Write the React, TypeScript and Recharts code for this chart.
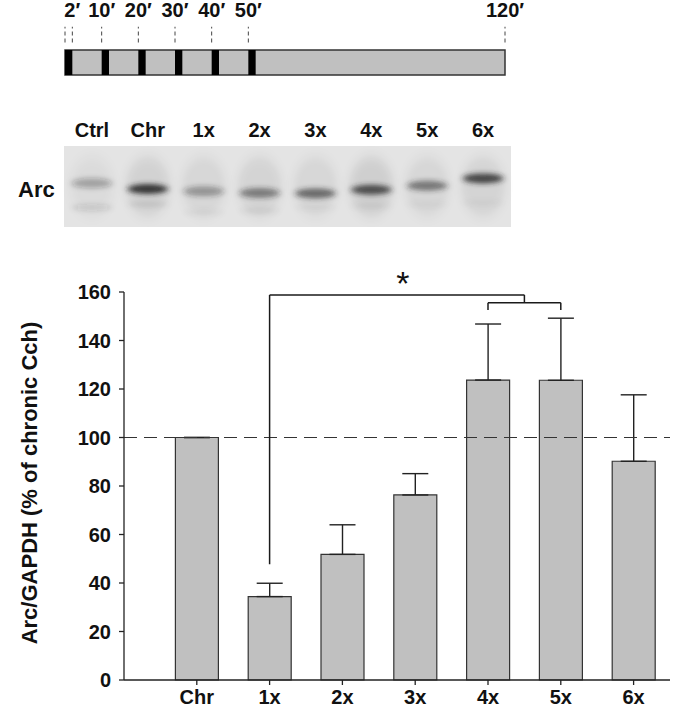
import React from "react";
import {
  BarChart,
  Bar,
  XAxis,
  YAxis,
  ErrorBar,
  ReferenceLine,
  ReferenceArea,
  ReferenceDot,
  ScatterChart,
  Scatter,
} from "recharts";

// Arc/GAPDH, % of chronic Cch (mean + SEM)
const GROUPS = ["Chr", "1x", "2x", "3x", "4x", "5x", "6x"];
const MEANS = [100, 34.4, 51.8, 76.3, 123.7, 123.6, 90.2];
const SEMS = [0, 5.5, 12.2, 8.8, 23.1, 25.6, 27.4];
const Y_TICKS = [0, 20, 40, 60, 80, 100, 120, 140, 160];

// stimulation protocol, minutes
const PULSE_STARTS = [0, 10, 20, 30, 40, 50];
const PULSE_MIN = 2;
const SESSION_MIN = 120;
const TIME_MARKS = [0, 2, 10, 20, 30, 40, 50, 120];
const TIME_LABELS = ["", "2′", "10′", "20′", "30′", "40′", "50′", "120′"];

// western blot lanes (band darkness 0-1, migration % of strip height)
const LANES = ["Ctrl", "Chr", "1x", "2x", "3x", "4x", "5x", "6x"];
const ARC_INTENSITY = [0.3, 0.9, 0.38, 0.5, 0.62, 0.78, 0.55, 0.82];
const ARC_MIGRATION = [46, 53, 56, 58, 58.5, 54, 49, 40];
const LOWER_INTENSITY = [0.12, 0.07, 0.04, 0.05, 0.03, 0.04, 0.03, 0.03];
const LOWER_MIGRATION = [76, 72, 82, 80, 76, 74, 72, 70];
const SMEAR_INTENSITY = [0.04, 0.08, 0.06, 0.07, 0.06, 0.09, 0.06, 0.07];

const SANS = "'Liberation Sans', Arial, sans-serif";
const NARROW = "'Liberation Sans Narrow', 'Liberation Sans', Arial, sans-serif";
const INK = "#111";

const barData = GROUPS.map((g, i) => ({
  pos: i + 1,
  name: g,
  mean: MEANS[i],
  err: [0, SEMS[i]],
}));
const posOf = (g: string) => GROUPS.indexOf(g) + 1;

const timeMarks = TIME_MARKS.map((t, i) => ({ t, y: 2.62, label: TIME_LABELS[i] }));

const smears = LANES.map((lane, i) => ({ lane, m: 50, intensity: SMEAR_INTENSITY[i], kind: "smear" }));
const arcBands = LANES.map((lane, i) => ({
  lane,
  m: ARC_MIGRATION[i],
  intensity: ARC_INTENSITY[i],
  kind: "arc",
}));
const lowerBands = LANES.map((lane, i) => ({
  lane,
  m: LOWER_MIGRATION[i],
  intensity: LOWER_INTENSITY[i],
  kind: "low",
}));

// eslint-disable-next-line @typescript-eslint/no-explicit-any
function Band(props: any) {
  const { cx, cy, payload } = props;
  const id = `blur-${payload.kind}-${payload.lane}`;
  const big = payload.kind === "smear";
  return (
    <g>
      <defs>
        <filter id={id} x="-100%" y="-300%" width="300%" height="700%">
          <feGaussianBlur stdDeviation={big ? "4 6" : "3 2.4"} />
        </filter>
      </defs>
      <ellipse
        cx={cx}
        cy={cy}
        rx={big ? 22 : 20}
        ry={big ? 30 : payload.kind === "arc" ? 5 : 3.5}
        fill="#262626"
        fillOpacity={payload.intensity}
        filter={`url(#${id})`}
      />
    </g>
  );
}

// eslint-disable-next-line @typescript-eslint/no-explicit-any
function TimeLabel(p: any) {
  if (!p.payload.label) return <g />;
  return (
    <text
      x={p.cx}
      y={p.cy + 7}
      textAnchor="middle"
      fontFamily={NARROW}
      fontWeight="bold"
      fontSize={20}
      fill={INK}
    >
      {p.payload.label}
    </text>
  );
}

// eslint-disable-next-line @typescript-eslint/no-explicit-any
function Star(p: any) {
  return (
    <text x={p.cx} y={p.cy + 17} textAnchor="middle" fontFamily={SANS} fontSize={34} fill={INK}>
      *
    </text>
  );
}

// eslint-disable-next-line @typescript-eslint/no-explicit-any
function YLabel(props: any) {
  const vb = props.viewBox;
  const cy = vb.y + vb.height / 2 - 3;
  return (
    <text
      x={37}
      y={cy}
      transform={`rotate(-90 37 ${cy})`}
      textAnchor="middle"
      fontFamily={SANS}
      fontWeight="bold"
      fontSize={22}
      fill={INK}
    >
      Arc/GAPDH (% of chronic Cch)
    </text>
  );
}

const bracket = { stroke: "#1a1a1a", strokeWidth: 1.5 };

export default function App() {
  return (
    <div style={{ position: "relative", width: 693, height: 709, overflow: "hidden", background: "#fff" }}>
      <style>{`body{margin:0}`}</style>

      {/* protocol timeline */}
      <div style={{ position: "absolute", left: 0, top: 0 }}>
        <ScatterChart width={693} height={80} margin={{ top: 0, right: 188, bottom: 5, left: 65 }}>
          <XAxis type="number" dataKey="t" domain={[0, SESSION_MIN]} hide />
          <YAxis type="number" dataKey="y" domain={[0, 3]} hide />
          <ReferenceArea
            x1={0}
            x2={SESSION_MIN}
            y1={0}
            y2={1}
            fill="#c0c0c0"
            fillOpacity={1}
            stroke="#333"
            strokeWidth={1.5}
          />
          {PULSE_STARTS.map((t) => (
            <ReferenceArea key={t} x1={t} x2={t + PULSE_MIN} y1={0} y2={1} fill="#000" fillOpacity={1} />
          ))}
          {TIME_MARKS.map((t) => (
            <ReferenceLine
              key={`d${t}`}
              segment={[
                { x: t, y: 1.3 },
                { x: t, y: 1.93 },
              ]}
              stroke="#444"
              strokeDasharray="4 3"
            />
          ))}
          <Scatter data={timeMarks} shape={TimeLabel} isAnimationActive={false} />
        </ScatterChart>
      </div>

      {/* western blot */}
      <div
        style={{
          position: "absolute",
          left: 18,
          top: 177,
          fontFamily: NARROW,
          fontWeight: "bold",
          fontSize: 22,
          color: INK,
        }}
      >
        Arc
      </div>
      <div style={{ position: "absolute", left: 0, top: 110 }}>
        <ScatterChart width={693} height={117} margin={{ top: 0, right: 182, bottom: 0, left: 64 }}>
          <XAxis
            type="category"
            dataKey="lane"
            orientation="top"
            allowDuplicatedCategory={false}
            axisLine={false}
            tickLine={false}
            height={36}
            interval={0}
            tickSize={0}
            tickMargin={9}
            tick={{ fontFamily: NARROW, fontWeight: "bold", fontSize: 20, fill: INK }}
          />
          <YAxis type="number" dataKey="m" domain={[0, 100]} reversed hide />
          <ReferenceArea y1={0} y2={100} fill="#e4e4e4" fillOpacity={1} />
          <Scatter data={smears} shape={Band} isAnimationActive={false} />
          <Scatter data={lowerBands} shape={Band} isAnimationActive={false} />
          <Scatter data={arcBands} shape={Band} isAnimationActive={false} />
        </ScatterChart>
      </div>

      {/* quantification */}
      <div style={{ position: "absolute", left: 0, top: 260 }}>
        <BarChart width={693} height={449} data={barData} margin={{ top: 32, right: 23, bottom: 5, left: 0 }}>
          <XAxis
            type="number"
            dataKey="pos"
            domain={[0, 7.5]}
            ticks={GROUPS.map((_, i) => i + 1)}
            tickFormatter={(v: number) => GROUPS[v - 1] ?? ""}
            axisLine={{ stroke: "#222", strokeWidth: 1.3 }}
            tickLine={{ stroke: "#222", strokeWidth: 1.3 }}
            tickSize={5}
            tickMargin={5}
            height={24}
            tick={{ fontFamily: SANS, fontWeight: "bold", fontSize: 20, fill: INK }}
          />
          <YAxis
            type="number"
            domain={[0, 160]}
            ticks={Y_TICKS}
            width={124}
            axisLine={{ stroke: "#222", strokeWidth: 1.3 }}
            tickLine={{ stroke: "#222", strokeWidth: 1.3 }}
            tickSize={5}
            tickMargin={8}
            tick={{ fontFamily: SANS, fontWeight: "bold", fontSize: 20, fill: INK }}
            label={{ content: YLabel }}
          />
          <Bar
            dataKey="mean"
            barSize={43}
            fill="#c0c0c0"
            stroke="#333"
            strokeWidth={1.2}
            isAnimationActive={false}
          >
            <ErrorBar dataKey="err" direction="y" width={13} stroke="#222" strokeWidth={1.4} />
          </Bar>
          <ReferenceLine y={100} stroke="#333" strokeWidth={1.2} strokeDasharray="13 7" />

          {/* significance bracket: 1x vs 4x/5x */}
          <ReferenceLine
            segment={[
              { x: posOf("1x"), y: 47.7 },
              { x: posOf("1x"), y: 158.8 },
            ]}
            {...bracket}
          />
          <ReferenceLine
            segment={[
              { x: posOf("1x"), y: 158.8 },
              { x: (posOf("4x") + posOf("5x")) / 2, y: 158.8 },
            ]}
            {...bracket}
          />
          <ReferenceLine
            segment={[
              { x: (posOf("4x") + posOf("5x")) / 2, y: 158.8 },
              { x: (posOf("4x") + posOf("5x")) / 2, y: 155.6 },
            ]}
            {...bracket}
          />
          <ReferenceLine
            segment={[
              { x: posOf("4x"), y: 155.6 },
              { x: posOf("5x"), y: 155.6 },
            ]}
            {...bracket}
          />
          <ReferenceLine
            segment={[
              { x: posOf("4x"), y: 155.6 },
              { x: posOf("4x"), y: 152.6 },
            ]}
            {...bracket}
          />
          <ReferenceLine
            segment={[
              { x: posOf("5x"), y: 155.6 },
              { x: posOf("5x"), y: 152.6 },
            ]}
            {...bracket}
          />
          <ReferenceDot x={3.83} y={165.8} r={0} ifOverflow="visible" shape={Star} />
        </BarChart>
      </div>
    </div>
  );
}
